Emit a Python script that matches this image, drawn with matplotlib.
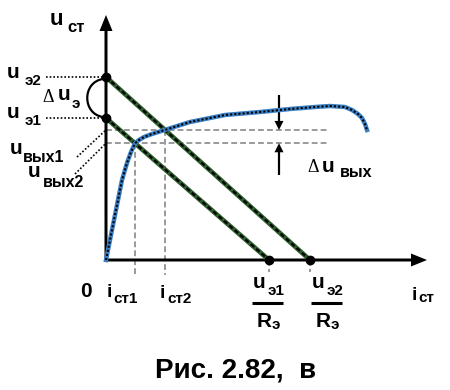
import matplotlib
matplotlib.use("Agg")
import matplotlib.pyplot as plt
from matplotlib.path import Path
from matplotlib.patches import PathPatch

plt.rcParams["font.family"] = ["Liberation Sans", "DejaVu Sans"]

# stabiliser characteristic u_ст(i_ст)
curve_i = [0, 6, 12, 16, 21, 25, 29, 33, 38, 46, 59, 84, 119, 154, 184, 209, 224, 239, 246, 252, 256, 259, 261]
curve_u = [0, 30, 60, 80, 97, 108, 116.7, 120, 123, 126, 130.1, 138, 145, 148, 151, 153, 154, 153, 150, 146, 142, 136, 130]

# load lines: u_э / (u_э / R_э)
u_e = [142, 183]
i_short = [163, 204]

# operating points
i_st = [29, 59]

fig = plt.figure(figsize=(4.5, 3.9), dpi=100)
ax = fig.add_axes([0, 0, 1, 1])
ax.set_xlim(-106, 344)
ax.set_ylim(-130, 260)
ax.axis("off")

grey = "#9a9a9a"
u_op = [u_e[k] - i_st[k] * u_e[k] / i_short[k] for k in range(2)]

# dashed construction lines
for k in range(2):
    ax.plot([0, 221], [u_op[k], u_op[k]], color=grey, lw=1.4, dashes=(3, 1.6), zorder=1)
    ax.plot([i_st[k], i_st[k]], [u_op[k], -15], color=grey, lw=1.4, dashes=(3, 1.6), zorder=1)
    ax.plot([i_short[k], i_short[k]], [0, -12], color=grey, lw=1.4, dashes=(3, 1.6), zorder=1)

# axes with arrows
ax.arrow(0, 0, 0, 245, width=3, head_width=13, head_length=16,
         length_includes_head=True, fc="black", ec="none", zorder=3)
ax.arrow(0, 0, 321, 0, width=3, head_width=13, head_length=16,
         length_includes_head=True, fc="black", ec="none", zorder=3)

# load lines
for k in range(2):
    ax.plot([0, i_short[k]], [u_e[k], 0], color="#2f5f2f", lw=3.4, solid_capstyle="butt", zorder=4)
    ax.plot([0, i_short[k]], [u_e[k], 0], color="black", lw=1.6, dashes=(2, 1.2), zorder=5)

# characteristic
ax.plot(curve_i, curve_u, color="#3a7fc4", lw=3.2, zorder=6)
ax.plot(curve_i, curve_u, color="black", lw=1.5, dashes=(1, 1), zorder=7)

# points on the axes
ax.plot([0, 0], u_e, "o", color="black", ms=6, zorder=8)
ax.plot(i_short, [0, 0], "o", color="black", ms=6, zorder=8)

# dotted leaders
dot = (0, (1, 1.2))
for k in range(2):
    ax.plot([-60, 0], [u_e[k], u_e[k]], color="black", lw=1.2, ls=dot, zorder=2)
ax.plot([-29, 0], [103, u_op[1]], color="black", lw=1.2, ls=dot, zorder=2)
ax.plot([-31, 0], [86, u_op[0]], color="black", lw=1.2, ls=dot, zorder=2)

# bracket for Δu_э
br = Path([(-3, 181), (-24, 178), (-24, 146), (-3, 143)],
          [Path.MOVETO, Path.CURVE4, Path.CURVE4, Path.CURVE4])
ax.add_patch(PathPatch(br, fc="none", ec="black", lw=1.6))

# Δu_вых arrows
ax.arrow(173, 165, 0, u_op[1] - 165, width=2.2, head_width=9, head_length=9,
         length_includes_head=True, fc="black", ec="none")
ax.arrow(173, 85, 0, u_op[0] - 85, width=2.2, head_width=9, head_length=9,
         length_includes_head=True, fc="black", ec="none")


def t(x, y, s, size, weight="bold", **kw):
    ax.text(x, y, s, fontsize=size, fontweight=weight, va="baseline", ha="left", **kw)


serif = ["Liberation Serif", "DejaVu Serif"]

t(-56, 235, "u", 16)
t(-39, 228, "ст", 12)
t(-99, 182, "u", 15)
t(-81, 175, "э2", 11)
t(-99, 142, "u", 15)
t(-81, 135, "э1", 11)
t(-64, 158, "Δ", 13, weight="normal", family=serif)
t(-48, 160, "u", 15)
t(-34, 152, "э", 11)
t(-96, 106, "u", 15)
t(-83, 98, "вых1", 11.5)
t(-78, 83, "u", 15)
t(-63, 73, "вых2", 11.5)
t(201, 88, "Δ", 13, weight="normal", family=serif)
t(216, 88, "u", 15)
t(234, 83, "вых", 11.5)

t(-26, -37, "0", 15)
t(1, -37, "i", 14)
t(7, -43, "ст1", 11)
t(54, -38, "i", 14)
t(61, -43, "ст2", 11)
t(306, -40, "i", 14)
t(312, -42, "ст", 11)

# fractions u_э / R_э
frac_x = [146, 205]
frac_sub = ["э1", "э2"]
for k in range(2):
    x0 = frac_x[k]
    t(x0 + 1, -28, "u", 15)
    t(x0 + 16, -35, frac_sub[k], 11)
    ax.plot([x0, x0 + 31], [-43, -43], color="black", lw=2.2, solid_capstyle="butt")
    t(x0 + 5, -67, "R", 15)
    t(x0 + 20, -69, "э", 11)

ax.text(130, -118, "Рис. 2.82,  в", fontsize=20, fontweight="bold", ha="center", va="baseline")

fig.savefig("out.png", dpi=100)
